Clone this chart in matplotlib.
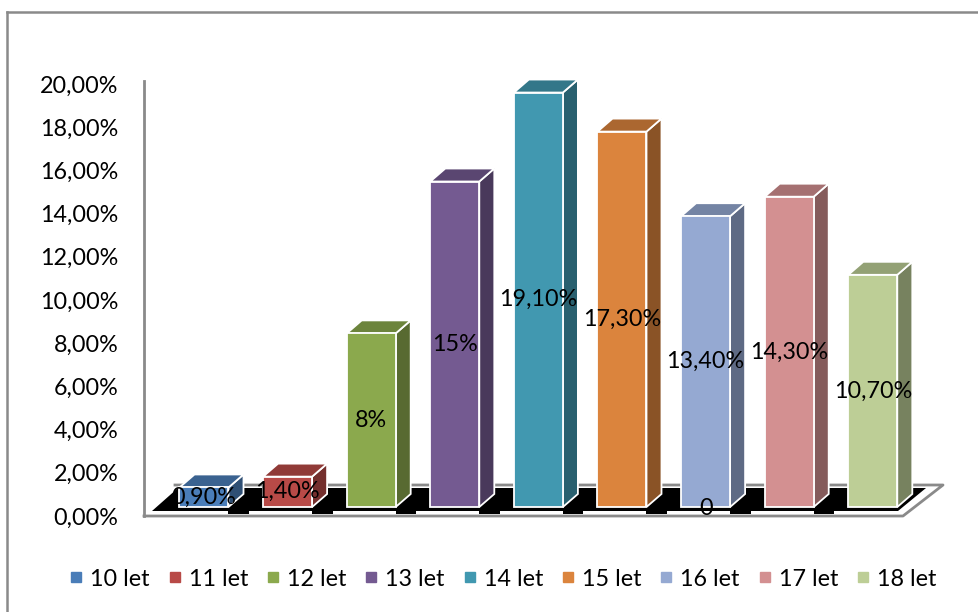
import matplotlib
matplotlib.use("Agg")
import matplotlib.pyplot as plt
from matplotlib.patches import Polygon, Rectangle
from matplotlib.lines import Line2D
import matplotlib.colors as mc

# ---------------- data ----------------
categories = ["10 let", "11 let", "12 let", "13 let", "14 let",
              "15 let", "16 let", "17 let", "18 let"]
values = [0.9, 1.4, 8, 15, 19.1, 17.3, 13.4, 14.3, 10.7]
value_labels = ["0,90%", "1,40%", "8%", "15%", "19,10%",
                "17,30%", "13,40%", "14,30%", "10,70%"]
ytick_values = [0, 2, 4, 6, 8, 10, 12, 14, 16, 18, 20]
ytick_labels = ["0,00%", "2,00%", "4,00%", "6,00%", "8,00%", "10,00%",
                "12,00%", "14,00%", "16,00%", "18,00%", "20,00%"]
stray_label_text = "0"
stray_label_index = 6
stray_label_value = 0

colors = ["#4A7DB8", "#B84A47", "#8BA94D", "#745A91", "#4198B0",
          "#DB843D", "#95A9D2", "#D39091", "#BDCE96"]

# ---------------- layout ----------------
W, H = 979, 612
plt.rcParams['font.family'] = ['Lato', 'DejaVu Sans']
FS = 16.8
fig = plt.figure(figsize=(W / 100, H / 100), dpi=100)

x0, step, base, scale = 204, 83.6, 507, 21.7   # pixel geometry of the plot


def px(x):
    return (x - x0) / step


def py(yimg):
    return (base - yimg) / scale


ax = fig.add_axes([0, 0, 1, 1])
ax.set_xlim(px(0), px(W))
ax.set_ylim(py(H), py(0))
ax.axis('off')

gray = "#8a8a8a"

# outer frame
ax.plot([px(7), px(7)], [py(H + 5), py(12)], color=gray, lw=1.8, zorder=1)
ax.plot([px(7), px(W + 5)], [py(12), py(12)], color=gray, lw=1.8, zorder=1)

# left wall line
ax.plot([px(144), px(144)], [py(516), py(81)], color=gray, lw=2, zorder=2)

# floor
ax.add_patch(Polygon([(px(152), py(511)), (px(178), py(488)),
                      (px(926), py(488)), (px(898), py(511))],
                     closed=True, facecolor="black", edgecolor="none", zorder=2))
ax.plot([px(144), px(903), px(943), px(175)],
        [py(516), py(516), py(485), py(485)], color=gray, lw=2, zorder=2)

hw = 24.5 / step
dx = 15 / step
dy = 13 / scale
n = len(values)

# black dashes in front of gaps
for i in range(n - 1):
    ax.add_patch(Rectangle((i + hw, py(514)), (1 - 2 * hw) - 14 / step, py(510) - py(514),
                           facecolor="black", edgecolor="none", zorder=2))


def shade(c, f):
    r, g, b = mc.to_rgb(c)
    return (r * f, g * f, b * f)


for i, (v, c) in enumerate(zip(values, colors)):
    front = Rectangle((i - hw, 0), 2 * hw, v, facecolor=c,
                      edgecolor="white", lw=1.3, zorder=3)
    top = Polygon([(i - hw, v), (i + hw, v), (i + hw + dx, v + dy),
                   (i - hw + dx, v + dy)], closed=True,
                  facecolor=shade(c, 0.78), edgecolor="white", lw=1.3, zorder=3)
    side = Polygon([(i + hw, 0), (i + hw + dx, dy), (i + hw + dx, v + dy),
                    (i + hw, v)], closed=True,
                   facecolor=shade(c, 0.63), edgecolor="white", lw=1.3, zorder=3)
    ax.add_patch(side)
    ax.add_patch(top)
    ax.add_patch(front)
    ax.text(i, v / 2, value_labels[i], ha="center", va="center",
            fontsize=FS, color="black", zorder=5)

ax.text(stray_label_index, stray_label_value - 0.05, stray_label_text,
        ha="center", va="center", fontsize=FS, color="black", zorder=5)

# y axis labels
ax_y = fig.add_axes([144 / W, 1 - 516 / H, 0.001, (516 - 84) / H])
ax_y.set_ylim(0, 20)
ax_y.set_yticks(ytick_values, ytick_labels)
ax_y.set_xticks([])
ax_y.tick_params(axis='y', length=0, pad=18.5, labelsize=FS)
for s in ax_y.spines.values():
    s.set_visible(False)
ax_y.patch.set_visible(False)

# legend
handles = [Line2D([], [], marker='s', ls='', color=c, markersize=7.5)
           for c in colors]
fig.legend(handles, categories, ncol=9, loc="center",
           bbox_to_anchor=(501 / W, 1 - 579 / H), frameon=False,
           fontsize=FS, handletextpad=0.15, columnspacing=0.62,
           handlelength=0.9, borderaxespad=0)

fig.savefig("out.png", dpi=100)
